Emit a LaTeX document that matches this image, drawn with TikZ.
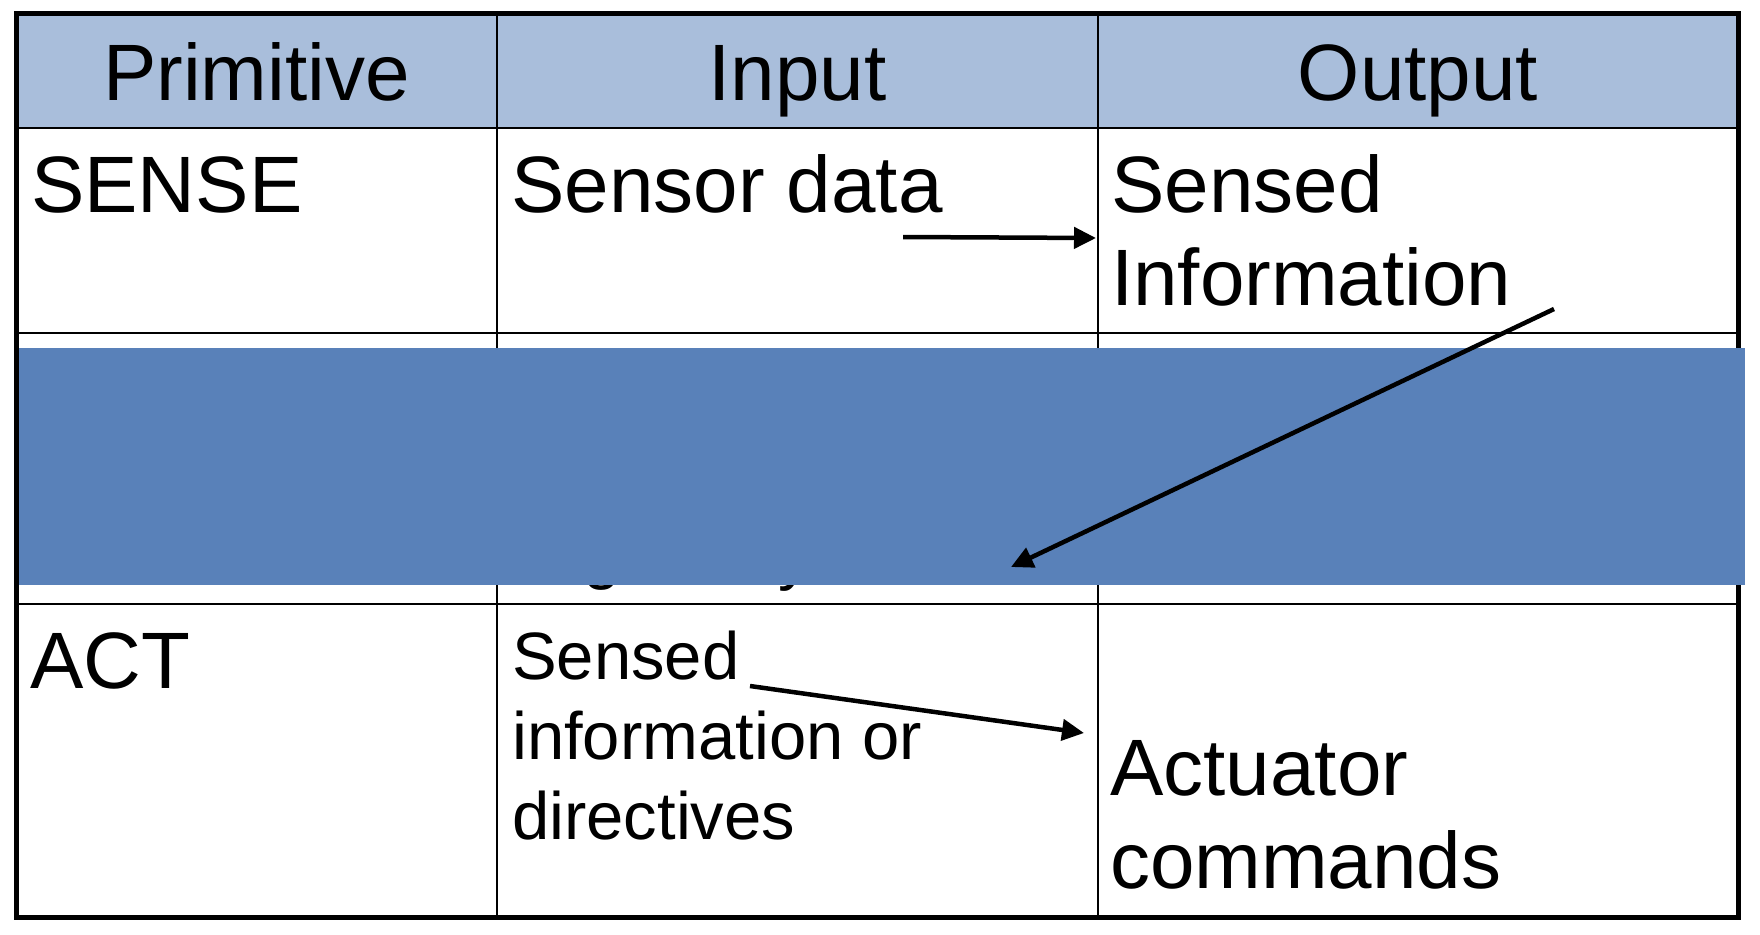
\documentclass[tikz,border=0pt]{standalone}
\usepackage{fontspec}
\setmainfont{Liberation Sans}
\usetikzlibrary{arrows.meta}
\definecolor{headblue}{RGB}{169,190,219}
\definecolor{coverblue}{RGB}{89,129,185}
\tikzset{
	cell/.style={anchor=base west, inner sep=0pt, align=left, font=\fontsize{80}{93}\selectfont},
	smallcell/.style={cell, font=\fontsize{67}{80}\selectfont},
	head/.style={anchor=base, inner sep=0pt, font=\fontsize{80}{93}\selectfont},
	flow/.style={-{Triangle[length=22pt,width=21pt]}, line width=4.5pt}
}
\begin{document}
\begin{tikzpicture}[x=1pt, y=-1pt, line join=round]
			\useasboundingbox (0,0) rectangle (1760,934);
			\fill[headblue] (16,14) rectangle (1738,128);
			\draw[line width=2.5pt] (16,128)--(1738,128) (16,333)--(1738,333) (16,604)--(1738,604);
			\draw[line width=2.5pt] (497,14)--(497,917) (1098,14)--(1098,917);
			\draw[line width=5pt, line join=miter] (16,14) rectangle (1738,917);
			% header row
			\node[head] (hprim) at (256.5,100) {Primitive};
			\node[head] (hin) at (797.5,100) {Input};
			\node[head] (hout) at (1418,100) {Output};
			% sense row (base = last line)
			\node[cell] (sense) at (31,212) {SENSE};
			\node[cell] (sensin) at (511,212) {Sensor data};
			\node[cell] (sensout) at (1111,305) {Sensed\\Information};
			% act row
			\node[cell] (act) at (30,688) {ACT};
			\node[smallcell] (actin) at (512,839) {Sensed\\information or\\directives};
			\node[cell] (actout) at (1110,888) {Actuator\\commands};
			% hidden row
			\node[smallcell] (hidg) at (583,576) {g};
			\node[smallcell] (hidy) at (778,577) {y};
			\fill[coverblue] (18.5,348) rectangle (1745,585);
			% arrows
			\coordinate (a1s) at (903,237);
			\coordinate (a1e) at (1096,238);
			\coordinate (a2s) at (1554,309);
			\coordinate (a2e) at (1011,567);
			\coordinate (a3s) at (750,686);
			\coordinate (a3e) at (1084,733);
			\draw[flow] (a1s)--(a1e);
			\draw[flow] (a2s)--(a2e);
			\draw[flow] (a3s)--(a3e);
\end{tikzpicture}
\end{document}
